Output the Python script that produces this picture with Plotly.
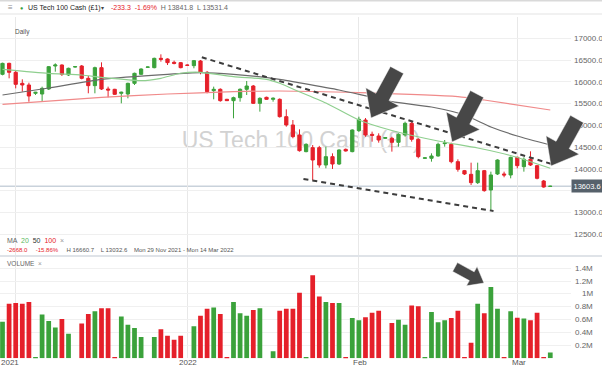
import math
import plotly.graph_objects as go

# ---------------- data ----------------
dates = [
    "2021-11-29", "2021-11-30", "2021-12-01", "2021-12-02", "2021-12-03", "2021-12-05",
    "2021-12-06", "2021-12-07", "2021-12-08", "2021-12-09", "2021-12-10", "2021-12-12",
    "2021-12-13", "2021-12-14", "2021-12-15", "2021-12-16", "2021-12-17", "2021-12-19",
    "2021-12-20", "2021-12-21", "2021-12-22", "2021-12-23", "2021-12-26",
    "2021-12-27", "2021-12-28", "2021-12-29", "2021-12-30", "2021-12-31", "2022-01-02",
    "2022-01-03", "2022-01-04", "2022-01-05", "2022-01-06", "2022-01-07", "2022-01-09",
    "2022-01-10", "2022-01-11", "2022-01-12", "2022-01-13", "2022-01-14", "2022-01-16",
    "2022-01-17", "2022-01-18", "2022-01-19", "2022-01-20", "2022-01-21", "2022-01-23",
    "2022-01-24", "2022-01-25", "2022-01-26", "2022-01-27", "2022-01-28", "2022-01-30",
    "2022-01-31", "2022-02-01", "2022-02-02", "2022-02-03", "2022-02-04", "2022-02-06",
    "2022-02-07", "2022-02-08", "2022-02-09", "2022-02-10", "2022-02-11", "2022-02-13",
    "2022-02-14", "2022-02-15", "2022-02-16", "2022-02-17", "2022-02-18", "2022-02-20",
    "2022-02-21", "2022-02-22", "2022-02-23", "2022-02-24", "2022-02-25", "2022-02-27",
    "2022-02-28", "2022-03-01", "2022-03-02", "2022-03-03", "2022-03-04", "2022-03-06",
    "2022-03-07",
]

opens = [16173, 16425, 16219, 15966, 15928, 15737, 15721, 15836, 16364, 16387,
         16158, 16341, 16364, 16081, 15913, 16326, 15836, 15829, 15737, 15721,
         15966, 16173, 16334, 16326, 16540, 16525, 16448, 16441, 16387, 16372,
         16479, 16219, 15798, 15829, 15599, 15568, 15637, 15829, 15905, 15507,
         15645, 15599, 15599, 15201, 15010, 14780, 14398, 14489, 14489, 14091,
         14283, 14114, 14451, 14398, 14880, 15124, 14795, 14757, 14704, 14704,
         14612, 14780, 15048, 14681, 14245, 14245, 14298, 14582, 14566, 14168,
         13961, 13877, 13686, 13961, 13518, 13885, 13885, 13862, 14267, 14053,
         14222, 14076, 13724, 13598]
highs = [16440, 16440, 16272, 16058, 15981, 15770, 15890, 16364, 16425, 16402,
         16326, 16360, 16387, 16135, 16349, 16448, 15890, 15840, 15775, 15981,
         16211, 16311, 16350, 16555, 16632, 16540, 16487, 16456, 16400, 16502,
         16502, 16250, 15890, 15851, 15610, 15660, 15851, 16020, 15928, 15645,
         15660, 15645, 15620, 15369, 15124, 14910, 14589, 14550, 14530, 14512,
         14359, 14451, 14470, 14910, 15200, 15170, 14857, 14818, 14730, 14740,
         14818, 15086, 15086, 14704, 14260, 14359, 14604, 14665, 14604, 14222,
         13977, 14145, 14145, 13977, 13938, 14222, 13938, 14283, 14283, 14267,
         14405, 14091, 13747, 13615]
lows = [16150, 16081, 15851, 15775, 15545, 15700, 15561, 15813, 16234, 16135,
        16135, 16330, 16058, 15737, 15737, 15813, 15645, 15700, 15507, 15622,
        15928, 16158, 16320, 16311, 16464, 16387, 16402, 16311, 16370, 16311,
        16173, 15737, 15599, 15545, 15560, 15163, 15545, 15698, 15492, 15316,
        15590, 15545, 15180, 14971, 14704, 14398, 14383, 13740, 14030, 14015,
        14000, 14091, 14400, 14383, 14850, 14740, 14627, 14604, 14690, 14398,
        14512, 14742, 14627, 14245, 14230, 14168, 14283, 14512, 14130, 13938,
        13862, 13632, 13655, 13479, 13058, 13862, 13809, 13785, 14015, 13938,
        14068, 13762, 13571, 13592]
closes = [16425, 16219, 15943, 15928, 15675, 15760, 15851, 16349, 16387, 16173,
          16311, 16349, 16081, 15913, 16326, 15836, 15813, 15714, 15760, 15966,
          16196, 16295, 16341, 16540, 16517, 16441, 16425, 16326, 16379, 16487,
          16219, 15775, 15829, 15568, 15568, 15637, 15829, 15905, 15507, 15622,
          15599, 15622, 15201, 15010, 14742, 14420, 14566, 14206, 14091, 14283,
          14114, 14436, 14413, 14895, 15140, 14780, 14772, 14665, 14720, 14612,
          14795, 15048, 14681, 14283, 14255, 14298, 14566, 14597, 14168, 13992,
          13885, 13686, 13961, 13502, 13862, 14206, 13862, 14267, 14076, 14222,
          14091, 13785, 13586, 13603.6]
volume_m = [0.57, 0.85, 0.86, 0.85, 0.875, 0.015, 0.68, 0.58, 0.48, 0.61,
            0.38, 0.0, 0.54, 0.69, 0.73, 0.78, 0.78, 0.02, 0.65, 0.52,
            0.47, 0.33, 0.0, 0.33, 0.45, 0.35, 0.29, 0.35, 0.0, 0.50,
            0.66, 0.77, 0.79, 0.69, 0.02, 0.875, 0.70, 0.66, 0.75, 0.78,
            0.0, 0.11, 0.74, 0.77, 0.77, 1.02, 0.02, 1.29, 0.96, 0.875,
            0.86, 0.86, 0.015, 0.625, 0.59, 0.64, 0.71, 0.74, 0.0, 0.55,
            0.60, 0.52, 0.82, 0.81, 0.015, 0.72, 0.56, 0.59, 0.625, 0.74,
            0.015, 0.24, 0.85, 0.70, 1.11, 0.77, 0.02, 0.73, 0.63, 0.62,
            0.59, 0.71, 0.02, 0.09]

ma20_slot = [0, 7, 12, 15, 21, 24, 27, 30, 35, 40, 42, 44, 49, 54, 59, 66, 72, 77, 83]
ma20_val = [16288, 16197, 16157, 16105, 16027, 16082, 16197, 16219, 16118, 16059,
            15967, 15836, 15515, 15124, 14883, 14642, 14481, 14309, 14016]
ma50_slot = [0, 7, 15, 25, 30, 35, 42, 44, 51, 59, 65, 70, 74, 78, 83]
ma50_val = [15698, 15859, 16059, 16174, 16210, 16174, 16059, 16004, 15813, 15545,
            15423, 15239, 14964, 14757, 14550]
ma100_slot = [0, 15, 25, 35, 42, 54, 69, 73, 83]
ma100_val = [15485, 15646, 15721, 15774, 15790, 15751, 15659, 15584, 15354]

upper_trend_slot = [30.2, 83.2]
upper_trend_val = [16564, 14114]
lower_trend_slot = [45.6, 74.4]
lower_trend_val = [13770, 13035]

price_ticks = [12500, 13000, 13500, 14000, 14500, 15000, 15500, 16000, 16500, 17000]
# 13500.0 sits under the last-price box in the original, so it shows no label
price_tick_labels = ["12500.0", "13000.0", "", "14000.0", "14500.0", "15000.0",
                     "15500.0", "16000.0", "16500.0", "17000.0"]
volume_ticks = [200000, 400000, 600000, 800000, 1000000, 1200000, 1400000]
volume_tick_labels = ["0.2M", "0.4M", "0.6M", "0.8M", "1M", "1.2M", "1.4M"]
month_tick_dates = ["2021-12-01", "2022-01-02", "2022-02-01", "2022-03-01"]
month_labels = ["2021", "2022", "Feb", "Mar"]
last_price = 13603.6

# ---------------- styling helpers ----------------
W, H = 602, 367
PLOT_R = 571.0
GREEN = "#3ba23b"
RED = "#e5202a"
FONT = "Liberation Sans, Arial, sans-serif"
NARROW = "Liberation Sans Narrow, Arial Narrow, Liberation Sans, sans-serif"


def px(x):
    return x / PLOT_R


def py(y):
    return 1 - y / H


def arrow_path(tail, tip, shaft_hw, head_hw, head_len):
    dx, dy = tip[0] - tail[0], tip[1] - tail[1]
    L = math.hypot(dx, dy)
    ux, uy = dx / L, dy / L
    nx, ny = -uy, ux
    bx, by = tip[0] - ux * head_len, tip[1] - uy * head_len
    pts = [
        (tail[0] + nx * shaft_hw, tail[1] + ny * shaft_hw),
        (bx + nx * shaft_hw, by + ny * shaft_hw),
        (bx + nx * head_hw, by + ny * head_hw),
        tip,
        (bx - nx * head_hw, by - ny * head_hw),
        (bx - nx * shaft_hw, by - ny * shaft_hw),
        (tail[0] - nx * shaft_hw, tail[1] - ny * shaft_hw),
    ]
    return "M " + " L ".join(f"{px(x):.5f},{py(y):.5f}" for x, y in pts) + " Z"


vol_colors = [GREEN if c >= o else RED for o, c in zip(opens, closes)]

fig = go.Figure()
fig.add_trace(go.Candlestick(
    x=dates, open=opens, high=highs, low=lows, close=closes,
    increasing=dict(line=dict(color=GREEN, width=1), fillcolor=GREEN),
    decreasing=dict(line=dict(color=RED, width=1), fillcolor=RED),
    whiskerwidth=0, showlegend=False, hoverinfo="skip",
    xaxis="x", yaxis="y",
))
fig.add_trace(go.Bar(
    x=dates, y=[v * 1e6 for v in volume_m], marker_color=vol_colors,
    marker_line_width=0, width=0.72, showlegend=False, hoverinfo="skip",
    xaxis="x", yaxis="y2",
))
for slots, vals, col in [(ma100_slot, ma100_val, "#f08a8a"),
                         (ma50_slot, ma50_val, "#6b6b6b"),
                         (ma20_slot, ma20_val, "#8fcf8f")]:
    fig.add_trace(go.Scatter(
        x=[dates[i] for i in slots], y=vals, mode="lines",
        line=dict(color=col, width=1.2, shape="spline", smoothing=0.6),
        showlegend=False, hoverinfo="skip", xaxis="x", yaxis="y",
    ))

shapes = []
# watermark (below traces)
shapes.append(dict(type="rect", xref="paper", yref="paper",
                   x0=px(150), x1=px(452), y0=py(150), y1=py(126),
                   line=dict(width=0), fillcolor="rgba(0,0,0,0)", layer="below",
                   label=dict(text="US Tech 100 Cash (£1)", textposition="middle center",
                              font=dict(size=23, color="#d2d2d2", family=FONT))))
# last price line
shapes.append(dict(type="line", xref="paper", yref="y", x0=0, x1=1,
                   y0=last_price, y1=last_price, layer="below",
                   line=dict(color="#c9d2db", width=1.5)))
# top tab strip, header separator and panel separator
shapes.append(dict(type="rect", xref="paper", yref="paper", x0=0, x1=W / PLOT_R,
                   y0=py(1.5), y1=py(0), line=dict(width=0), fillcolor="#d9d9d9"))
shapes.append(dict(type="line", xref="paper", yref="paper", x0=0, x1=W / PLOT_R,
                   y0=py(14), y1=py(14), line=dict(color="#e3e3e3", width=1)))
shapes.append(dict(type="line", xref="paper", yref="paper", x0=0, x1=W / PLOT_R,
                   y0=py(256), y1=py(256), line=dict(color="#dfe3e8", width=2)))
# trend lines
shapes.append(dict(type="line", xref="x", yref="y",
                   x0=upper_trend_slot[0], x1=upper_trend_slot[1],
                   y0=upper_trend_val[0], y1=upper_trend_val[1],
                   line=dict(color="#3d3d3d", width=2, dash="5px,4px")))
shapes.append(dict(type="line", xref="x", yref="y",
                   x0=lower_trend_slot[0], x1=lower_trend_slot[1],
                   y0=lower_trend_val[0], y1=lower_trend_val[1],
                   line=dict(color="#3d3d3d", width=2, dash="5px,4px")))
# arrows
ARROW_COL = "#474747"
for tail, tip in [((397, 70), (371, 118)), ((477, 94), (452, 142)), ((577, 119), (551, 166))]:
    shapes.append(dict(type="path", xref="paper", yref="paper",
                       path=arrow_path(tail, tip, 7.5, 19, 24),
                       fillcolor=ARROW_COL, line=dict(color="white", width=0.5)))
shapes.append(dict(type="path", xref="paper", yref="paper",
                   path=arrow_path((455, 267), (484, 283), 5, 11, 14),
                   fillcolor=ARROW_COL, line=dict(color="white", width=0.5)))

ann = []


def text(x, y, s, size=7, color="#333", xanchor="left", family=NARROW, **kw):
    ann.append(dict(xref="paper", yref="paper", x=px(x), y=py(y), text=s,
                    showarrow=False, xanchor=xanchor, yanchor="middle",
                    font=dict(size=size, color=color, family=family), **kw))


# header
text(10, 8, "≡", 8, "#8a8a8a", "center", FONT)
text(21.7, 8, "●", 5.5, GREEN, "center", FONT)
text(26, 8, "US Tech 100 Cash (£1)", 7, "#222")
text(102.5, 8, "▾", 6, "#444", "center", FONT)
text(108.5, 8, "<span style='color:#e5202a'>-233.3  -1.69%</span>  H 13841.8  L 13531.4",
     7, "#666")
text(12.5, 31.7, "Daily", 6.5, "#555")
# MA legend
text(5, 240.7, "MA  <span style='color:#5cb85c'>20</span>  <span style='color:#333'>50</span>  "
     "<span style='color:#e5202a'>100</span>  <span style='color:#999'>×</span>", 7, "#666")
text(5, 250.3, "<span style='color:#e5202a'>-2668.0</span>     <span style='color:#e5202a'>-15.86%</span>"
     "     H 16660.7    L 13032.6    Mon 29 Nov 2021 - Mon 14 Mar 2022", 6, "#555")
text(5, 263.3, "VOLUME  <span style='color:#999'>×</span>", 6.5, "#666")
# last price label
ann.append(dict(xref="paper", yref="y", x=1.0, y=last_price, text=f"{last_price:.1f}",
                showarrow=False, xanchor="left", yanchor="middle", bgcolor="#56616b",
                borderpad=1.5, font=dict(size=7.5, color="white", family=NARROW)))
# volume tick labels
for v, lab in zip(volume_ticks, volume_tick_labels):
    ann.append(dict(xref="paper", yref="y2", x=px(595), y=v, text=lab, showarrow=False,
                    xanchor="right", yanchor="middle",
                    font=dict(size=8, color="#666", family=NARROW)))
# month labels
for xpix, lab in zip([10, 188, 360, 519], month_labels):
    text(xpix, 362.5, lab, 8, "#555", "center")

fig.update_layout(
    width=W, height=H, margin=dict(l=0, r=W - PLOT_R, t=0, b=0),
    paper_bgcolor="white", plot_bgcolor="white", hovermode=False,
    font=dict(family=FONT),
    shapes=shapes, annotations=ann,
    xaxis=dict(type="category", categoryorder="array", categoryarray=dates,
               range=[-0.38, 86.14], anchor="y2", tickvals=month_tick_dates,
               showticklabels=False, ticks="", showgrid=True, gridcolor="#e8e8e8",
               gridwidth=1, zeroline=False, showline=False,
               rangeslider=dict(visible=False), fixedrange=True),
    yaxis=dict(domain=[py(255), py(17)], range=[12025, 17489], side="right",
               tickvals=price_ticks, ticktext=price_tick_labels, showgrid=True,
               gridcolor="#efefef", zeroline=False, showline=False, ticks="",
               ticklabelstandoff=2, tickfont=dict(size=8, color="#666", family=NARROW),
               fixedrange=True),
    yaxis2=dict(domain=[py(358.3), py(257)], range=[0, 1.575e6], side="right",
                tickvals=volume_ticks, showticklabels=False, showgrid=True,
                gridcolor="#f0f0f0", zeroline=False, showline=False, ticks="",
                fixedrange=True),
)

fig.write_html("out.html", config={"displayModeBar": False},
               post_script="document.body.style.margin='0px';")
